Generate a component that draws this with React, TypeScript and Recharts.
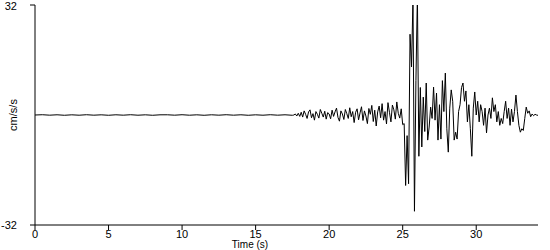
import { Label, Line, LineChart, XAxis, YAxis } from "recharts";

// quiet pre-event record, one sample every 0.5 s starting at 0 s
const quietStep = 0.5;
const quietValues = [
  0, 0.08, -0.05, 0.06, -0.08, 0.05, -0.06, 0.08, -0.05, 0.05, -0.08, 0.06,
  -0.05, 0.08, -0.06, 0.05, -0.08, 0.05, 0.06, -0.05, 0.08, -0.06, 0.05, -0.08,
  0.06, -0.05, 0.08, -0.05, 0.06, -0.08, 0.05, -0.06, 0.08, -0.05, 0.06, -0.08,
];

// shaking, one sample every 0.1 s starting at 17.6 s (cm/s/s)
const activeStart = 17.6;
const sampleStep = 0.1;
const activeValues = [
  0, 0.3, -0.3, 0.5, -0.4,
  0.8, -0.6, 1.2, 0.2, -1.0, 0.9, 1.5, -0.8, 0.4, -1.5,
  1.0, 0.2, -0.9, 1.6, 0.5, -0.6, 1.1, -1.2, 0.7, 0.3,
  -1.1, 1.4, -0.4, 0.9, 2.0, -0.7, -1.8, 1.2, 0.3, -1.3,
  1.6, 0.4, -1.0, 2.1, -0.5, 1.0, -2.2, 0.8, 1.8, -1.4,
  0.6, 2.4, -1.6, 1.2, -0.3, -2.5, 1.9, 0.2, 2.8, -1.9,
  1.4, -3.2, 0.9, 2.6, -0.8, 3.3, -1.5, 1.0, -2.6, 3.6,
  0.8, -2.0, 2.9, 1.5, -1.2, 3.8, 0.5, -0.9, 1.8, -2.8,
  -2.5, -20.5, -6, -20, 23.5, 14, 34, -28, 10, 35,
  -12, 8, -9.3, 5.2, -4.8, 9.3, -7.3, -3.5, 2.3, -1,
  8.1, -1.5, 6.4, -7.3, 3, -7, 10, 1, 12.2, -4,
  -10.8, 2, 7.3, 4, -7.3, -5, -7, 1, 3, 8,
  9.3, 4, 7, -2, 3, -4, -12, 2, 6.7, 0,
  4, -2, 3, 1, -3, 2, -5.2, 0, 2, -1,
  5, 1, 3, -2, 1, -3, -1, -2.5, 1, 4,
  -1, 2, -3, 1.7, -2, 1, 5.8, 1, -3, -5,
  -4, -4.5, -1, 2.3, 0.5, 1.2, -0.5, 0.3, -0.2, 0.2,
  0, -0.1,
];

const timeTicks = [0, 5, 10, 15, 20, 25, 30];
const accelTicks = [-32, 32];

const data = [
  ...quietValues.map((v, i) => ({ t: +(i * quietStep).toFixed(2), a: v })),
  ...activeValues.map((v, i) => ({ t: +(activeStart + i * sampleStep).toFixed(2), a: v })),
];

const font = { fontFamily: "'Liberation Sans', Arial, sans-serif", fontSize: 11, fill: "#000" };

export default function App() {
  return (
    <div style={{ position: "absolute", left: 0, top: 0 }}>
      <LineChart width={550} height={250} data={data} margin={{ top: 5, right: 12, bottom: 0, left: 0 }}>
        <XAxis
          dataKey="t"
          type="number"
          domain={[0, 34.2]}
          ticks={timeTicks}
          tick={font}
          tickSize={5}
          tickMargin={0}
          height={25}
          stroke="#000"
        >
          <Label
            content={(p: any) => (
              <text x={250} y={p.viewBox.y + 23.3} textAnchor="middle" {...font} fontSize={10}>
                Time (s)
              </text>
            )}
          />
        </XAxis>
        <YAxis
          type="number"
          domain={[-32, 32]}
          ticks={accelTicks}
          allowDataOverflow
          tick={font}
          tickSize={5}
          tickMargin={13}
          width={35}
          stroke="#000"
        >
          <Label
            content={(p: any) => {
              const cy = p.viewBox.y + p.viewBox.height / 2;
              return (
                <text x={17} y={cy} textAnchor="middle" transform={`rotate(-90 17 ${cy})`} {...font}>
                  cm/s/s
                </text>
              );
            }}
          />
        </YAxis>
        <Line dataKey="a" type="linear" stroke="#000" strokeWidth={1} dot={false} isAnimationActive={false} />
      </LineChart>
    </div>
  );
}
